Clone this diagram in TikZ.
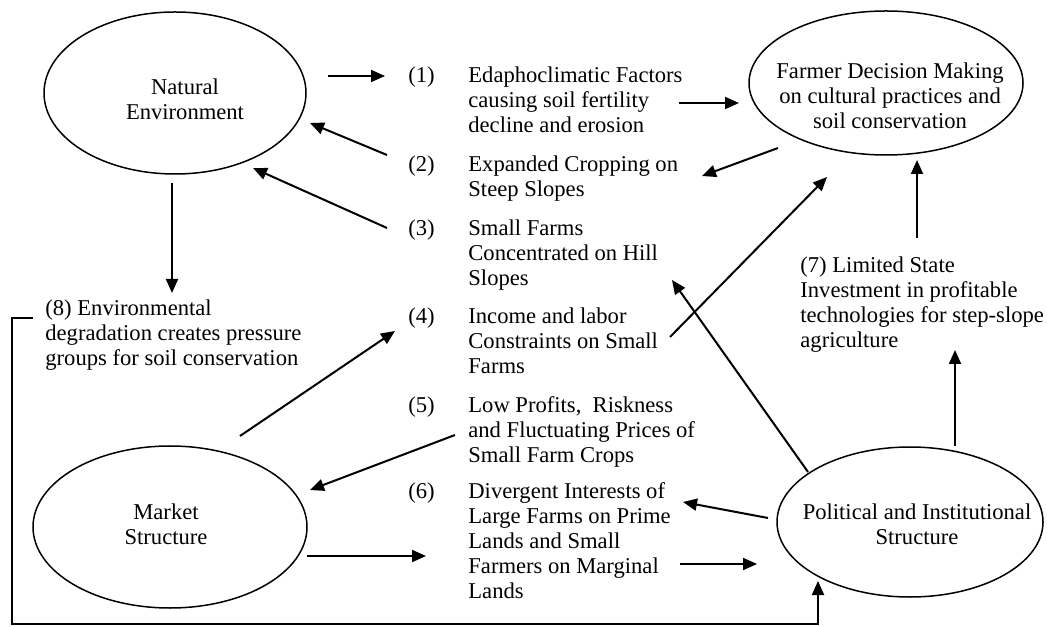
\documentclass[tikz,border=0pt]{standalone}
\usepackage{fontspec}
\setmainfont{Liberation Serif}
\usetikzlibrary{shapes.geometric,arrows.meta}

\begin{document}
\begin{tikzpicture}[x=0.5pt,y=0.5pt,
    every node/.style={font=\fontsize{11.3}{12.5}\selectfont},
    blob/.style={draw,ellipse,line width=0.75pt,inner sep=0pt},
    blobtext/.style={align=center,inner sep=0pt},
    item/.style={anchor=north west,align=left,inner sep=0pt},
    arr/.style={line width=1pt,-{Triangle[length=7pt,width=6pt]}}
  ]
  \useasboundingbox (0,0) rectangle (1047,626);

  % 楕円
  \node[blob,minimum width=131pt,minimum height=81pt] (nat) at (175,533) {};
  \node[blob,minimum width=137pt,minimum height=72pt] (farm) at (886,543) {};
  \node[blob,minimum width=137pt,minimum height=81pt] (mkt) at (170,99) {};
  \node[blob,minimum width=133pt,minimum height=75pt] (pol) at (910,104) {};
  \node[blobtext] (natT) at (185,526.5) {Natural\\Environment};
  \node[blobtext] (farmT) at (890,530) {Farmer Decision Making\\on cultural practices and\\soil conservation};
  \node[blobtext] (mktT) at (166,101.5) {Market\\Structure};
  \node[blobtext] (polT) at (917,101.5) {Political and Institutional\\Structure};

  % 番号付きの項目 (\strutで1行目の高さをそろえる)
  \node[item] (n1) at (408,561.5) {\strut(1)};
  \node[item] (t1) at (468,561.5) {\strut Edaphoclimatic Factors\\causing soil fertility\\decline and erosion};
  \node[item] (n2) at (408,472.5) {\strut(2)};
  \node[item] (t2) at (468,472.5) {\strut Expanded Cropping on\\Steep Slopes};
  \node[item] (n3) at (408,408.5) {\strut(3)};
  \node[item] (t3) at (468,408.5) {\strut Small Farms\\Concentrated on Hill\\Slopes};
  \node[item] (n4) at (408,320.5) {\strut(4)};
  \node[item] (t4) at (468,320.5) {\strut Income and labor\\Constraints on Small\\Farms};
  \node[item] (n5) at (408,231.5) {\strut(5)};
  \node[item] (t5) at (468,231.5) {\strut Low Profits,\ \ Riskness\\and Fluctuating Prices of\\Small Farm Crops};
  \node[item] (n6) at (408,145.5) {\strut(6)};
  \node[item] (t6) at (468,145.5) {\strut Divergent Interests of\\Large Farms on Prime\\Lands and Small\\Farmers on Marginal\\Lands};
  \node[item] (t7) at (800,371.5) {\strut(7) Limited State\\Investment in profitable\\technologies for step-slope\\agriculture};
  \node[item] (t8) at (45,328.5) {\strut(8) Environmental\\degradation creates pressure\\groups for soil conservation};

  % 矢印の端点
  \coordinate (natA) at (328,550);  \coordinate (t1A) at (385,550);
  \coordinate (t1B) at (679,523);   \coordinate (farmB) at (739,523);
  \coordinate (farmC) at (778,478); \coordinate (t2C) at (702,450);
  \coordinate (t2D) at (387,471);   \coordinate (natD) at (310,503);
  \coordinate (t3E) at (387,398);   \coordinate (natE) at (253,458);
  \coordinate (natF) at (172,443);  \coordinate (t8F) at (172,333);
  \coordinate (mktG) at (240,190);  \coordinate (t4G) at (395,295);
  \coordinate (t4H) at (670,289);   \coordinate (farmH) at (827,449);
  \coordinate (t5I) at (455,191);   \coordinate (mktI) at (310,136);
  \coordinate (mktJ) at (307,70);   \coordinate (t6J) at (426,70);
  \coordinate (t6K) at (680,62);    \coordinate (polK) at (757,62);
  \coordinate (polL) at (768,108);  \coordinate (t6L) at (683,124);
  \coordinate (polM) at (808,154);  \coordinate (t3M) at (672,346);
  \coordinate (polN) at (955,180);  \coordinate (t7N) at (955,276);
  \coordinate (t7O) at (917,388);   \coordinate (farmO) at (917,466);
  \coordinate (t8P) at (33,308);    \coordinate (polP) at (818,45);

  % 矢印
  \draw[arr] (natA) -- (t1A);
  \draw[arr] (t1B) -- (farmB);
  \draw[arr] (farmC) -- (t2C);
  \draw[arr] (t2D) -- (natD);
  \draw[arr] (t3E) -- (natE);
  \draw[arr] (natF) -- (t8F);
  \draw[arr] (mktG) -- (t4G);
  \draw[arr] (t4H) -- (farmH);
  \draw[arr] (t5I) -- (mktI);
  \draw[arr] (mktJ) -- (t6J);
  \draw[arr] (t6K) -- (polK);
  \draw[arr] (polL) -- (t6L);
  \draw[arr] (polM) -- (t3M);
  \draw[arr] (polN) -- (t7N);
  \draw[arr] (t7O) -- (farmO);
  \draw[arr] (t8P) -| (12,2) -| (polP);
\end{tikzpicture}
\end{document}
